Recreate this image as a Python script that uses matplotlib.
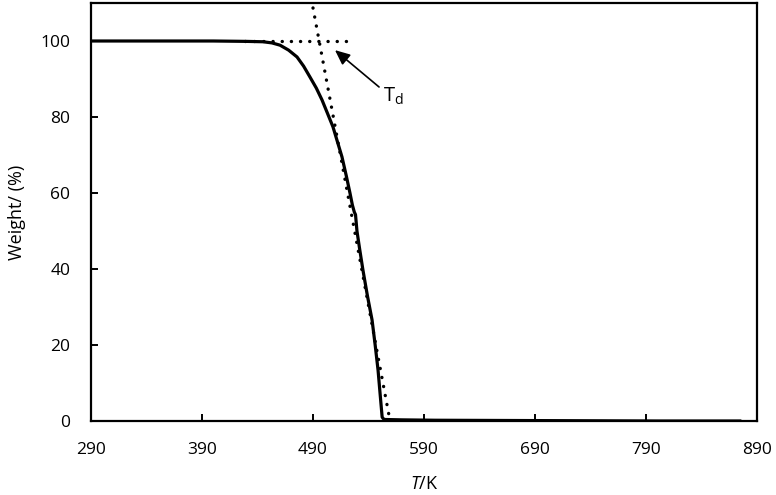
import matplotlib
matplotlib.use("Agg")
import matplotlib.pyplot as plt

plt.rcParams['font.family'] = ['Open Sans', 'DejaVu Sans']
plt.rcParams['mathtext.fontset'] = 'custom'
plt.rcParams['mathtext.rm'] = 'Open Sans'
plt.rcParams['mathtext.it'] = 'Open Sans:italic'

# TGA curve
temp = [290, 400, 430, 445, 453, 460.3, 468, 475.6, 481.5, 487.3, 493, 498.1,
        503, 508, 512, 516.1, 520, 523.3, 525.5, 527.2, 528.3, 529.6, 532,
        535, 539, 543.2, 546, 548.6, 550.5, 552.3, 554, 570, 600, 700, 800, 874.5]
weight = [100, 100, 99.9, 99.8, 99.5, 98.9, 97.6, 95.8, 93.4, 90.5, 87.6, 84.5,
          81, 77.4, 73.5, 69.5, 64.5, 60, 56.8, 55, 54.3, 50, 45.3, 39.7, 33,
          26.6, 20, 13.4, 7, 1, 0.4, 0.3, 0.2, 0.1, 0, 0]

# construction lines
base_T = [428.7, 525]
base_W = [100, 100]
tan_T = [490, 559.4]
tan_W = [108.7, 0]

# annotation
arrow_tip = (509.8, 97.6)
arrow_tail = (549.5, 87.9)
label_pos = (553, 85.5)

xticks = [290, 390, 490, 590, 690, 790, 890]
yticks = [0, 20, 40, 60, 80, 100]

fig = plt.figure(figsize=(7.76, 4.95), dpi=100)
ax = fig.add_axes([91/776, 1-421/495, (757-91)/776, (421-3)/495])

ax.plot(temp, weight, color='black', lw=2.3, solid_joinstyle='round', zorder=3)
ax.plot(base_T, base_W, color='black', lw=2.4, linestyle=(0, (0.05, 2.7)),
        dash_capstyle='round', zorder=2)
ax.plot(tan_T, tan_W, color='black', lw=2.4, linestyle=(0, (0.05, 2.7)),
        dash_capstyle='round', zorder=2)

ax.annotate('', xy=arrow_tip, xytext=arrow_tail,
            arrowprops=dict(arrowstyle='-|>,head_length=0.9,head_width=0.4',
                            color='black', lw=1.2, shrinkA=0, shrinkB=0))
ax.text(label_pos[0], label_pos[1], r'T$_\mathregular{d}$', fontsize=14.5,
        ha='left', va='center')

ax.set_xlim(290, 890)
ax.set_ylim(0, 110)
ax.set_xticks(xticks)
ax.set_yticks(yticks)
ax.tick_params(axis='both', direction='in', length=5, width=1.4, labelsize=12.5)
ax.tick_params(axis='x', pad=15)
ax.tick_params(axis='y', pad=15)
for s in ax.spines.values():
    s.set_linewidth(1.6)

ax.set_xlabel(r'$\mathit{T}$/K', fontsize=13, labelpad=12.5)
ax.set_ylabel('Weight/ (%)', fontsize=13, labelpad=10)

fig.savefig('out.png', dpi=100)
